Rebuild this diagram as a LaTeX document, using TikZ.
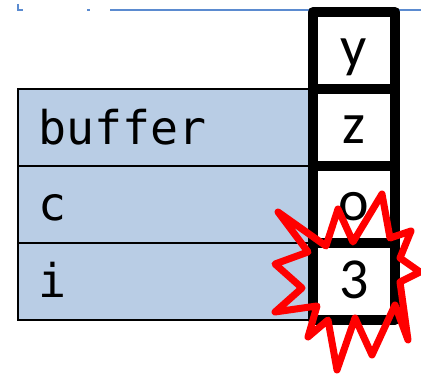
\documentclass[tikz,border=0pt]{standalone}
\usepackage{fontspec}
\newfontfamily\codefont{DejaVu Sans Mono}
\newfontfamily\valfont{Carlito}
\definecolor{cellblue}{HTML}{B9CDE5}
\definecolor{rulerblue}{HTML}{5B8BD0}
\definecolor{burstred}{HTML}{FF0000}
\begin{document}
\begin{tikzpicture}[x=1pt,y=-1pt,
  namecell/.style={draw=black, line width=1.8pt, fill=cellblue,
    minimum width=292pt, minimum height=77pt, inner sep=0pt, outer sep=0pt},
  valcell/.style={draw=black, line width=10pt, line join=round, fill=white,
    minimum width=82pt, minimum height=77pt, inner sep=0pt, outer sep=0pt},
  nametext/.style={anchor=base west, inner sep=0pt, font=\codefont\fontsize{46.5}{46.5}\selectfont},
  valtext/.style={anchor=base, inner sep=0pt, font=\valfont\fontsize{58}{58}\selectfont},
  ruler/.style={draw=rulerblue, line width=1.5pt},
  burst/.style={draw=burstred, line width=7pt, line join=round}]
\useasboundingbox (0,0) rectangle (421,374);

% ruler line along the top
\coordinate (rs) at (110,10);
\coordinate (re) at (421,10);
\draw[ruler] (rs) -- (re);
\coordinate (m1) at (18,4);
\coordinate (m2) at (18,10);
\coordinate (m3) at (23,10);
\draw[ruler] (m1) -- (m2) -- (m3);
\coordinate (d1) at (87,10);
\coordinate (d2) at (90,10);
\draw[ruler] (d1) -- (d2);

% variable names
\node[namecell] (nbuf) at (164,127.5) {};
\node[namecell] (nc)   at (164,204.5) {};
\node[namecell] (ni)   at (164,281.5) {};

% memory cells
\node[valcell] (vy) at (354,50.5)  {};
\node[valcell] (vz) at (354,127.5) {};
\node[valcell] (vo) at (354,204.5) {};
\node[valcell] (v3) at (354,281.5) {};

\node[nametext] (tbuf) at (38,145) {buffer};
\node[nametext] (tc)   at (38,221) {c};
\node[nametext] (ti)   at (38,298) {i};

\node[valtext] (ty) at (354,67)  {y};
\node[valtext] (tz) at (354,144) {z};
\node[valtext] (to) at (354,221) {o};
\node[valtext] (t3) at (354,299) {3};

% burst around the last cell
\draw[burst] (278,212) -- (326,246) -- (338,209) -- (353,242) -- (382,194)
  -- (390,238) -- (411,231) -- (400,258) -- (420,272) -- (400,282)
  -- (408,340) -- (395,305) -- (372,355) -- (355,318) -- (337,370)
  -- (328,320) -- (308,337) -- (317,306) -- (275,312) -- (302,288)
  -- (275,264) -- (308,252) -- cycle;
\end{tikzpicture}
\end{document}
